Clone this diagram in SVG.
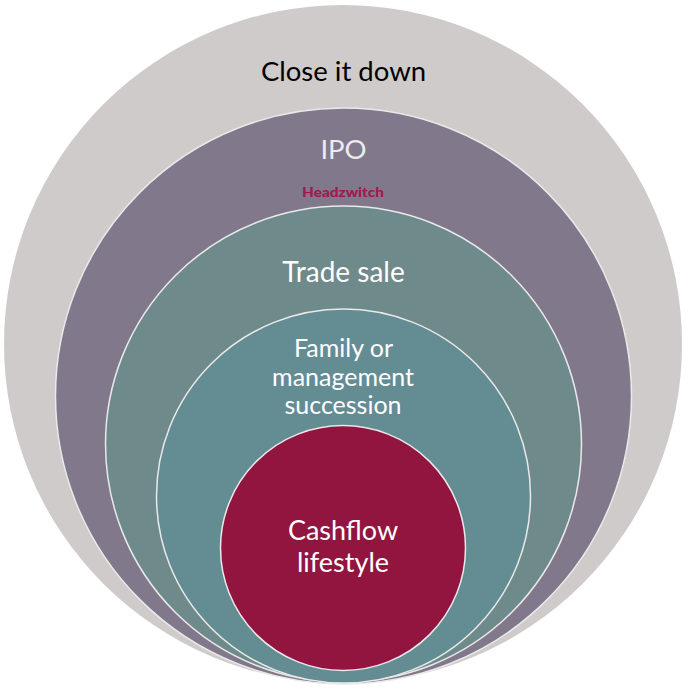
<svg xmlns="http://www.w3.org/2000/svg" width="690" height="690" viewBox="0 0 690 690">
<style>
text{font-family:"Lato","Open Sans",sans-serif;text-anchor:middle;font-size:27px;fill:#fff}
circle{stroke:#e9e9e9;stroke-width:1.5}
.m{font-size:25px}
</style>
<rect width="690" height="690" fill="#fff"/>
<g id="close"><circle cx="343" cy="344" r="339" fill="#cfcbcb" style="stroke:none"/><text x="343.500" y="81" style="fill:#000;font-size:27.500px">Close it down</text></g>
<g id="ipo"><circle cx="343.500" cy="396" r="288" fill="#81788c"/><text x="343.500" y="159" style="fill:#ecebee;font-size:27.500px">IPO</text>
<text x="343" y="197" textLength="82" lengthAdjust="spacingAndGlyphs" style="fill:#a01a4a;font-size:13px;font-weight:900">Headzwitch</text></g>
<g id="trade"><circle cx="343.500" cy="444" r="238" fill="#6f8a8b"/><text x="343.500" y="282" style="font-size:28px">Trade sale</text></g>
<g id="family"><circle cx="343.500" cy="496" r="187" fill="#648c93"/><text class="m" x="343.500" y="357">Family or</text><text class="m" x="343" y="386">management</text><text class="m" x="343" y="414">succession</text></g>
<g id="cashflow"><circle cx="343" cy="548" r="122.500" fill="#92153f"/><text x="343" y="540">Cashflow</text><text x="343" y="572">lifestyle</text></g>
<g id="connectors"></g>
</svg>
